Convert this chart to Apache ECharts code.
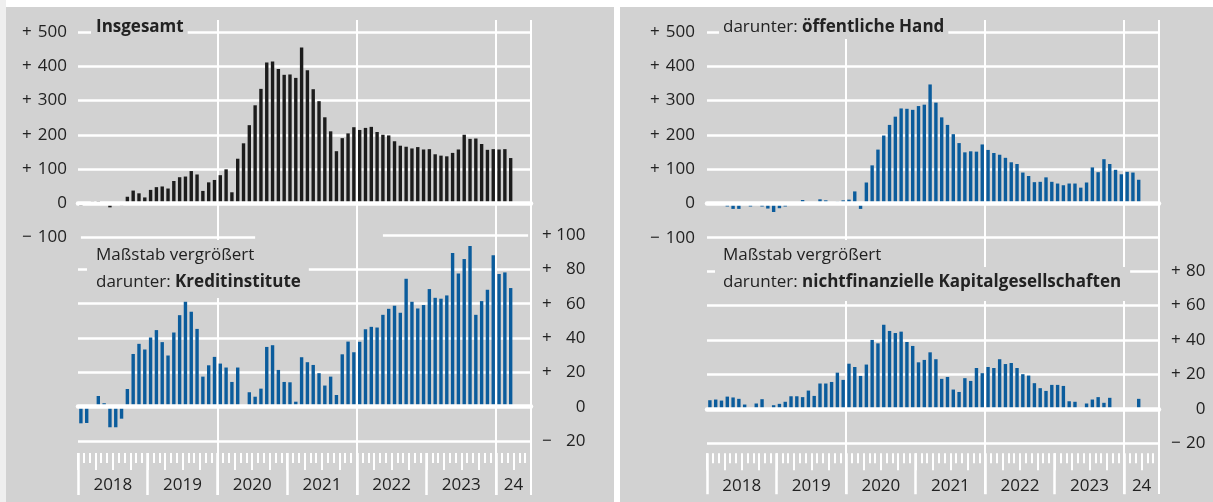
<!DOCTYPE html>
<html>
<head>
<meta charset="utf-8">
<script src="https://cdn.jsdelivr.net/npm/echarts@6/dist/echarts.min.js"></script>
<style>
  html, body { margin: 0; padding: 0; background: #fff; }
  #wrap { position: relative; width: 1213px; height: 502px; overflow: hidden; }
  .panel { position: absolute; top: 7px; bottom: 0; background: #d2d2d2; }
  #main { position: absolute; left: 0; top: 0; width: 1213px; height: 502px; }
</style>
</head>
<body>
<div id="wrap">
  <div style="position:absolute;left:0;top:0;width:6px;height:502px;background:#efefef"></div>
  <div class="panel" style="left:6px;width:608px"></div>
  <div class="panel" style="left:620px;width:593px"></div>
  <div id="main"></div>
</div>
<script>
// Monate Jan 2018 bis Jun 2024 (Achse), Daten bis Mär 2024
const years = ['2018', '2019', '2020', '2021', '2022', '2023', '2024'];
const yearLabels = ['2018', '2019', '2020', '2021', '2022', '2023', '24'];
const months = [];
years.forEach(y => {
  for (let m = 1; m <= 12; m++) {
    if (y !== '2024' || m <= 6) months.push(y + '-' + m);
  }
});

const insgesamt = [-8, 3, 5, 6, 2, -12, 0, -6, 19, 37, 29, 17, 39, 47, 49, 43, 65, 76, 78, 94,
  84, 36, 61, 68, 82, 99, 32, 130, 175, 228, 286, 334, 411, 414, 392, 375, 376, 366, 455, 388,
  333, 298, 251, 210, 152, 190, 204, 222, 214, 220, 223, 208, 200, 198, 181, 168, 165, 160, 164, 157,
  158, 143, 139, 137, 147, 157, 200, 188, 189, 173, 156, 158, 157, 158, 132];

const kreditinstitute = [-9.7, -9.5, 0.5, 6.2, 2, -12, -12, -7, 10.3, 30.7, 36.6, 33.3, 40.3, 44.6, 37.6, 29.8, 43.2, 53.3, 61.1, 55.3,
  45.3, 17.5, 24.1, 29, 25.1, 22.8, 14.4, 22.8, -0.5, 8.4, 5.8, 10.5, 34.8, 35.8, 21.4, 14.4, 14.2, 2.9, 28.8, 25.9,
  24.3, 19.5, 12.3, 17.5, 6.8, 30.5, 37.9, 31.7, 37.8, 45.1, 46.5, 46.1, 53.5, 57, 58.8, 54.7, 74.5, 61.1, 57.2, 59.2,
  68.5, 63.4, 62.9, 64.8, 89.5, 77.6, 86, 93.6, 53.5, 61.5, 68.1, 88.2, 77.3, 78.2, 69.1];

const oeffentlicheHand = [-1, 1, -4, -9, -16, -16, -2, -9, 3, -9, -15, -25, -14, -9, -2, 4, 10, 4, 4, 12,
  9, 3, 5, 9, 11, 35, -16, 61, 111, 157, 198, 229, 253, 277, 276, 273, 284, 288, 347, 294,
  251, 229, 202, 176, 149, 152, 151, 172, 156, 147, 142, 133, 120, 115, 90, 80, 62, 63, 76, 63,
  58, 53, 58, 58, 46, 61, 105, 91, 129, 115, 98, 85, 92, 90, 69];

const nichtfinKapG = [5.0, 5.4, 4.8, 7.1, 6.6, 5.8, 2.5, -1, 3.1, 5.6, -0.5, 2.1, 2.9, 4.1, 7.3, 7.3, 6.8, 10.6, 7.5, 14.7,
  14.7, 15.6, 21, 16.8, 26.2, 24.3, 19.1, 25.7, 40, 38, 48.8, 45.2, 44, 44.8, 38.8, 36.5, 27, 28.4, 32.8, 28.8,
  17.4, 18.5, 11.2, 9.8, 17.8, 16.2, 23.7, 20.7, 24.3, 23.7, 28.8, 26, 26.6, 23.7, 20.1, 19.3, 14.9, 12, 10.4, 13.9,
  13.9, 13.3, 4.4, 4.1, -0.5, 3.1, 5.4, 6.8, 3.5, 6.4, -0.4, -0.3, -0.4, 0.2, 5.8];

// Teilstriche auf den Monatsgrenzen 0 … 78
const monthTicks = months.map((_, i) => i).concat(months.length);
const quarterTicks = monthTicks.filter(i => i % 3 === 0);
const yearTicks = monthTicks.filter(i => i % 12 === 0);
const yearLabelPos = [6, 18, 30, 42, 54, 66, 75];

const FONT = '"Open Sans", sans-serif';
const TXT = '#222222';
const GREY = '#d2d2d2';
const WHITE = '#ffffff';
const BLACK = '#1c1c1c';
const BLUE = '#0b5c9c';

const txt = (extra) => Object.assign({ fontFamily: FONT, fontSize: 17, color: TXT }, extra || {});

function signLabel(v) {
  if (v === 0) return '{s| }{n|0}';
  return '{s|' + (v > 0 ? '+' : '\u2212') + '}{n|' + Math.abs(v) + '}';
}

function valueAxis(grid, min, max, interval, pos, margin, numWidth, hideMin, hideMax) {
  return {
    type: 'value', gridIndex: grid, min: min, max: max, interval: interval, position: pos,
    axisLine: { show: false }, axisTick: { show: false },
    axisLabel: {
      margin: margin, formatter: signLabel,
      rich: { s: txt({ width: 14, align: 'left' }), n: txt({ width: numWidth, align: 'right' }) }
    },
    splitLine: {
      show: true, showMinLine: !hideMin, showMaxLine: !hideMax,
      lineStyle: { color: WHITE, width: 2.5 }
    }
  };
}

function barAxis(grid) {
  return {
    type: 'category', gridIndex: grid, data: months, z: 10,
    axisLine: { show: true, onZero: true, lineStyle: { color: WHITE, width: 4.5 } },
    axisTick: { show: false }, axisLabel: { show: false }, splitLine: { show: false }
  };
}

function overlayAxis(grid) {
  return {
    type: 'category', gridIndex: grid, data: months,
    axisLine: { show: false }, axisTick: { show: false }, axisLabel: { show: false },
    splitLine: { show: true, interval: (i) => i > 0 && i % 24 === 0, lineStyle: { color: WHITE, width: 2 } }
  };
}

function tickAxis(grid, offset, ticks, len, width, labels) {
  return {
    type: 'value', gridIndex: grid, min: 0, max: months.length, position: 'bottom', offset: offset,
    axisLine: { show: false, onZero: false },
    axisTick: { show: true, customValues: ticks, length: len, lineStyle: { color: WHITE, width: width } },
    axisLabel: labels ? {
      show: true, customValues: yearLabelPos, margin: 24,
      formatter: (v) => yearLabels[yearLabelPos.indexOf(v)], ...txt()
    } : { show: false },
    splitLine: { show: false }
  };
}

function box(left, top, text, padding, bold) {
  return {
    left: left, top: top, text: text, padding: padding, backgroundColor: GREY,
    textStyle: txt({
      fontWeight: bold ? 'bold' : 'normal', lineHeight: 24,
      rich: {
        r: txt({ lineHeight: 24 }),
        b: txt({ fontWeight: 'bold', lineHeight: 24 })
      }
    })
  };
}

const markSeg = (a, b) => ({
  silent: true, symbol: 'none', label: { show: false }, animation: false,
  lineStyle: { color: WHITE, width: 2.5, type: 'solid' },
  data: [[{ coord: a }, { coord: b }]]
});

const option = {
  animation: false,
  backgroundColor: 'transparent',
  title: [
    box(91, 15, 'Insgesamt', [0, 4, 0, 5], true),
    box(719, 15, '{r|darunter: }{b|öffentliche Hand}', [0, 4, 0, 4]),
    box(87, 240, 'Maßstab vergrößert', [3, 5, 0, 9]),
    box(87, 267, '{r|darunter: }{b|Kreditinstitute}', [3, 8, 4, 9]),
    box(715, 240, 'Maßstab vergrößert', [3, 8, 0, 8]),
    box(715, 267, '{r|darunter: }{b|nichtfinanzielle Kapitalgesellschaften}', [3, 9, 7, 8])
  ],
  grid: [
    { left: 78, width: 453, top: 32, height: 205.5 },
    { left: 78, width: 453, top: 235, height: 206 },
    { left: 707, width: 452, top: 32, height: 205.7 },
    { left: 707, width: 452, top: 271, height: 172.3 },
    { left: 78, width: 453, top: 20, height: 475 },
    { left: 707, width: 452, top: 20, height: 474 }
  ],
  xAxis: [
    barAxis(0), barAxis(1), barAxis(2), barAxis(3),
    overlayAxis(4), overlayAxis(5),
    tickAxis(1, 12, monthTicks, 10, 2, false),
    tickAxis(1, 12, quarterTicks, 17, 2, false),
    tickAxis(1, 12, yearTicks, 42, 2.5, true),
    tickAxis(3, 10, monthTicks, 10, 2, false),
    tickAxis(3, 10, quarterTicks, 17, 2, false),
    tickAxis(3, 10, yearTicks, 41, 2.5, true)
  ],
  yAxis: [
    valueAxis(0, -100, 500, 100, 'left', 11, 31, true, false),
    valueAxis(1, -20, 100, 20, 'right', 11, 29.5, false, true),
    valueAxis(2, -100, 500, 100, 'left', 12, 31, false, false),
    valueAxis(3, -20, 80, 20, 'right', 12, 20.5, false, false),
    { type: 'value', gridIndex: 4, show: false },
    { type: 'value', gridIndex: 5, show: false }
  ],
  series: [
    {
      type: 'bar', xAxisIndex: 0, yAxisIndex: 0, data: insgesamt, barWidth: 3.4, clip: false,
      itemStyle: { color: BLACK }, markLine: markSeg([0, -100], [30, -100])
    },
    {
      type: 'bar', xAxisIndex: 1, yAxisIndex: 1, data: kreditinstitute, barWidth: 3.4, clip: false,
      itemStyle: { color: BLUE }, markLine: markSeg([52, 100], [77, 100])
    },
    { type: 'bar', xAxisIndex: 2, yAxisIndex: 2, data: oeffentlicheHand, barWidth: 3.4, itemStyle: { color: BLUE } },
    { type: 'bar', xAxisIndex: 3, yAxisIndex: 3, data: nichtfinKapG, barWidth: 3.4, itemStyle: { color: BLUE } }
  ]
};

const chart = echarts.init(document.getElementById('main'));
chart.setOption(option);
</script>
</body>
</html>
